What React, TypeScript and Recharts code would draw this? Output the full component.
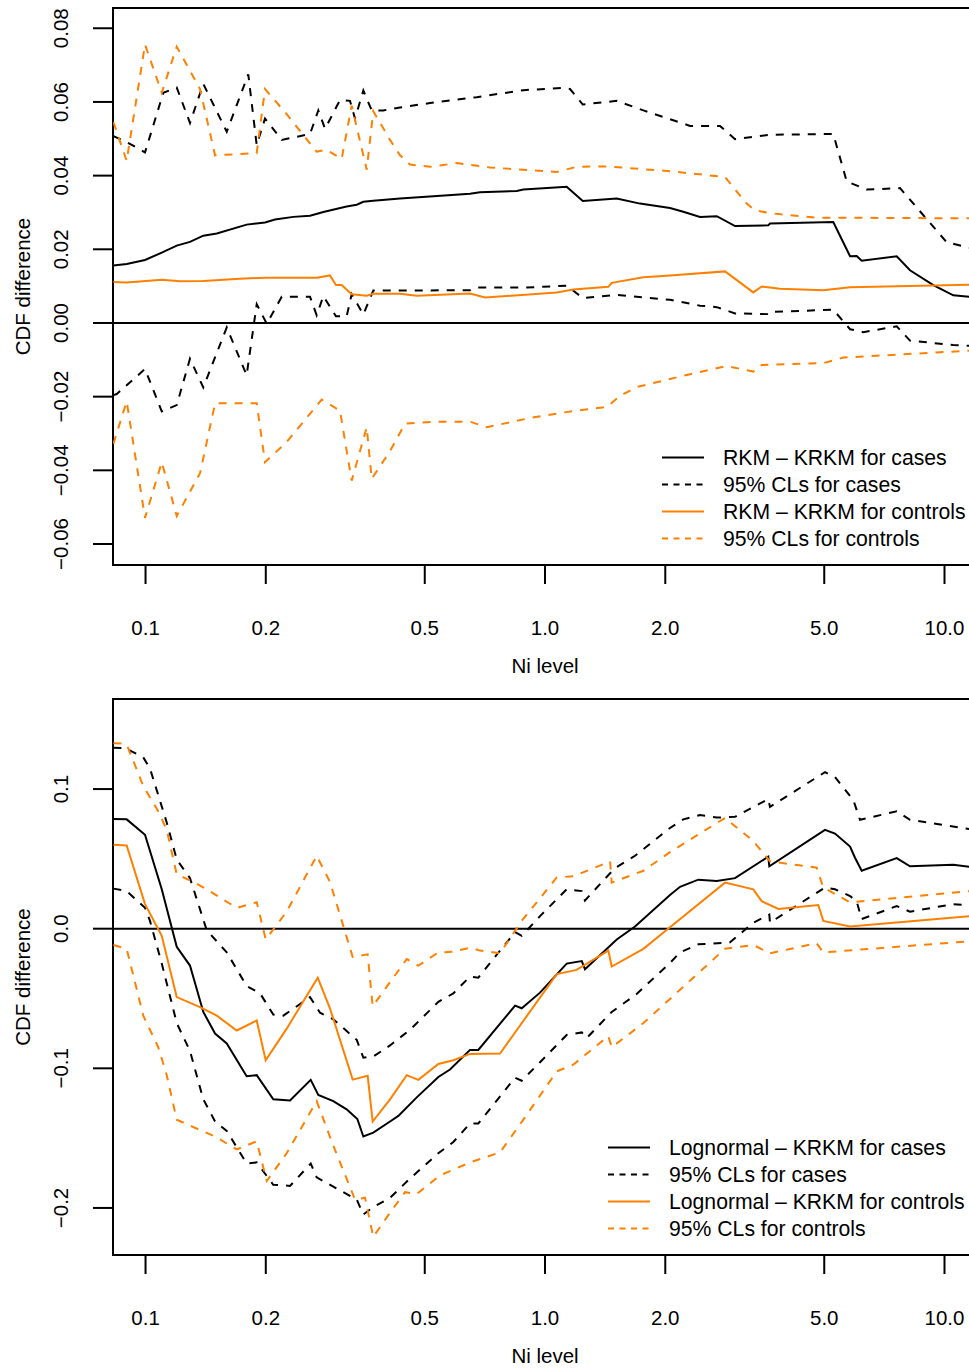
import React from 'react';
import { LineChart, Line, XAxis, YAxis, ReferenceLine, ReferenceArea, Legend } from 'recharts';

type Pt = [number, number];

const FONT = '"Liberation Sans", Arial, Helvetica, sans-serif';
const ORANGE = '#FF8000';
const DASH = '8 8';
const LEGEND_DASH = '6 5.5';

const xTicks = [0.1, 0.2, 0.5, 1, 2, 5, 10];
const xTickLabels = ['0.1', '0.2', '0.5', '1.0', '2.0', '5.0', '10.0'];
const xDomain: [number, number] = [0.0829, 12.06];

const topYTicks = [-0.06, -0.04, -0.02, 0, 0.02, 0.04, 0.06, 0.08];
const topYLabels = ['\u22120.06', '\u22120.04', '\u22120.02', '0.00', '0.02', '0.04', '0.06', '0.08'];
const topYDomain: [number, number] = [-0.0657, 0.0855];

const bottomYTicks = [-0.2, -0.1, 0, 0.1];
const bottomYLabels = ['\u22120.2', '\u22120.1', '0.0', '0.1'];
const bottomYDomain: [number, number] = [-0.2337, 0.1645];

const topLegend = [
  'RKM \u2013 KRKM for cases',
  '95% CLs for cases',
  'RKM \u2013 KRKM for controls',
  '95% CLs for controls',
];
const bottomLegend = [
  'Lognormal \u2013 KRKM for cases',
  '95% CLs for cases',
  'Lognormal \u2013 KRKM for controls',
  '95% CLs for controls',
];

// top panel: RKM - KRKM
const topCasesDiff: Pt[] = [
  [0.0831, 0.0156], [0.0897, 0.016], [0.0997, 0.0171], [0.1098, 0.0191], [0.1197, 0.021],
  [0.1292, 0.022], [0.1395, 0.0237], [0.1508, 0.0243], [0.1791, 0.0267], [0.1991, 0.0273],
  [0.2109, 0.0281], [0.2344, 0.0288], [0.2581, 0.0291], [0.2787, 0.0301], [0.3187, 0.0316],
  [0.3378, 0.0321], [0.3509, 0.0329], [0.3716, 0.0332], [0.4336, 0.0338], [0.5254, 0.0344],
  [0.649, 0.0351], [0.6875, 0.0355], [0.8494, 0.0358], [0.8825, 0.0362], [1.133, 0.037],
  [1.243, 0.0331], [1.512, 0.0338], [1.729, 0.0324], [2.055, 0.0312], [2.219, 0.0302],
  [2.443, 0.0288], [2.691, 0.029], [2.99, 0.0263], [3.621, 0.0265], [3.657, 0.027],
  [5.267, 0.0274], [5.802, 0.0181], [6.029, 0.0182], [6.204, 0.0169], [7.592, 0.0181],
  [8.196, 0.0143], [9.376, 0.0103], [10.52, 0.0075], [11.6, 0.0071],
];
const topCasesUpper: Pt[] = [
  [0.0831, 0.0507], [0.0897, 0.0491], [0.0997, 0.0463], [0.1108, 0.0625], [0.1197, 0.0639],
  [0.1292, 0.0543], [0.1395, 0.0649], [0.1597, 0.0519], [0.1808, 0.0675], [0.1898, 0.0483],
  [0.1991, 0.0555], [0.2192, 0.0497], [0.2581, 0.0513], [0.2707, 0.0577], [0.2814, 0.0527],
  [0.3067, 0.0605], [0.3249, 0.0603], [0.3345, 0.0555], [0.3509, 0.0631], [0.3682, 0.0577],
  [0.3937, 0.0577], [0.4336, 0.0585], [0.5155, 0.0597], [0.6745, 0.0613], [0.8825, 0.0632],
  [1.111, 0.0638], [1.155, 0.0635], [1.243, 0.0593], [1.512, 0.0603], [1.763, 0.0577],
  [2.055, 0.0553], [2.307, 0.0535], [2.742, 0.0535], [2.99, 0.0499], [3.657, 0.0511],
  [5.267, 0.0513], [5.692, 0.0384], [6.386, 0.0362], [7.739, 0.0366], [10.13, 0.0219],
  [11.6, 0.0204],
];
const topCasesLower: Pt[] = [
  [0.0831, -0.0196], [0.0847, -0.0193], [0.0997, -0.0125], [0.1098, -0.024], [0.1197, -0.0223],
  [0.1292, -0.0097], [0.1395, -0.0175], [0.1597, -0.0012], [0.1791, -0.0142], [0.1898, 0.0051],
  [0.2011, -0.0002], [0.2192, 0.0071], [0.2581, 0.0071], [0.2682, 0.0021], [0.2787, 0.0073],
  [0.2997, 0.0018], [0.3187, 0.0018], [0.3281, 0.0078], [0.3509, 0.0023], [0.3716, 0.0088],
  [0.4336, 0.0088], [0.649, 0.0089], [0.6745, 0.0096], [0.8825, 0.0096], [1.133, 0.0101],
  [1.243, 0.0068], [1.512, 0.0076], [2.055, 0.0063], [2.443, 0.0047], [2.691, 0.0043],
  [2.99, 0.0026], [3.621, 0.0024], [3.657, 0.003], [5.267, 0.0036], [5.802, -0.0017],
  [6.261, -0.0025], [7.592, -0.0009], [8.196, -0.0048], [10.52, -0.006], [11.6, -0.0062],
];
const topCtrlDiff: Pt[] = [
  [0.0831, 0.0111], [0.0897, 0.011], [0.1098, 0.0117], [0.122, 0.0113], [0.1395, 0.0114],
  [0.1723, 0.012], [0.1991, 0.0123], [0.2682, 0.0123], [0.2895, 0.0129], [0.2997, 0.0103],
  [0.3097, 0.0103], [0.3281, 0.0078], [0.3578, 0.0074], [0.3716, 0.0079], [0.4336, 0.0079],
  [0.4774, 0.0074], [0.649, 0.008], [0.7076, 0.0069], [1.07, 0.0083], [1.177, 0.0091],
  [1.44, 0.0098], [1.469, 0.0109], [1.763, 0.0124], [2.055, 0.0129], [2.822, 0.014],
  [3.322, 0.0083], [3.486, 0.0099], [3.874, 0.0093], [4.973, 0.0089], [5.802, 0.0097],
  [11.6, 0.0104],
];
const topCtrlUpper: Pt[] = [
  [0.0831, 0.0545], [0.0897, 0.044], [0.0997, 0.0756], [0.1098, 0.0625], [0.1197, 0.075],
  [0.1369, 0.0635], [0.1493, 0.0455], [0.1898, 0.0461], [0.1991, 0.0635], [0.2256, 0.0567],
  [0.2682, 0.0465], [0.2841, 0.047], [0.3097, 0.0445], [0.3281, 0.059], [0.3578, 0.0416],
  [0.3716, 0.0575], [0.4093, 0.0497], [0.4336, 0.0455], [0.4593, 0.043], [0.5155, 0.0424],
  [0.6012, 0.0434], [0.7285, 0.0422], [1.07, 0.041], [1.2, 0.0424], [1.427, 0.0425],
  [2.055, 0.0412], [2.822, 0.0396], [3.198, 0.0324], [3.355, 0.0306], [3.657, 0.0298],
  [4.786, 0.0286], [11.6, 0.0284],
];
const topCtrlLower: Pt[] = [
  [0.0831, -0.0328], [0.0897, -0.0213], [0.0997, -0.0529], [0.1098, -0.0378], [0.1197, -0.0524],
  [0.1369, -0.0408], [0.1493, -0.0218], [0.1898, -0.0218], [0.1991, -0.0378], [0.2256, -0.0323],
  [0.2761, -0.0208], [0.3067, -0.0238], [0.3281, -0.0428], [0.3578, -0.0283], [0.3682, -0.0423],
  [0.4093, -0.0348], [0.4336, -0.0298], [0.4463, -0.0273], [0.5358, -0.0268], [0.649, -0.0268],
  [0.7146, -0.0283], [0.9173, -0.0258], [1.111, -0.0243], [1.427, -0.0228], [1.541, -0.0198],
  [1.696, -0.0174], [2.055, -0.0152], [2.307, -0.0139], [2.85, -0.0117], [3.322, -0.0132],
  [3.486, -0.0114], [4.973, -0.0109], [5.582, -0.0094], [11.6, -0.0075],
];

// bottom panel: Lognormal - KRKM
const botCasesDiff: Pt[] = [
  [0.0831, 0.0785], [0.0897, 0.0783], [0.0997, 0.0673], [0.1098, 0.0282], [0.1197, -0.013],
  [0.1292, -0.0264], [0.1395, -0.0596], [0.1493, -0.0751], [0.1597, -0.0822], [0.1791, -0.1057],
  [0.1898, -0.1049], [0.2088, -0.1222], [0.23, -0.123], [0.2591, -0.1083], [0.2707, -0.119],
  [0.2951, -0.1235], [0.3187, -0.1294], [0.339, -0.1363], [0.3509, -0.1488], [0.3716, -0.1461],
  [0.4093, -0.1381], [0.4294, -0.1341], [0.4774, -0.1208], [0.5407, -0.1062], [0.5784, -0.1009],
  [0.649, -0.0868], [0.6808, -0.0868], [0.8414, -0.0551], [0.8743, -0.057], [0.9716, -0.0458],
  [1.133, -0.025], [1.236, -0.0232], [1.259, -0.029], [1.512, -0.0077], [1.68, 0.0016],
  [2.055, 0.0242], [2.178, 0.03], [2.419, 0.0351], [2.691, 0.0341], [2.99, 0.0362],
  [3.621, 0.0516], [3.643, 0.0447], [5.022, 0.0708], [5.32, 0.0681], [5.802, 0.0588],
  [5.97, 0.0508], [6.204, 0.0415], [7.592, 0.0506], [8.196, 0.0447], [10.52, 0.0458],
  [11.6, 0.0442],
];
const botCasesUpper: Pt[] = [
  [0.0831, 0.1296], [0.0872, 0.1294], [0.0897, 0.1288], [0.0987, 0.1227], [0.1026, 0.1147],
  [0.113, 0.0761], [0.1197, 0.0495], [0.1292, 0.0362], [0.1423, -0.0011], [0.1597, -0.017],
  [0.1791, -0.041], [0.1935, -0.0463], [0.2088, -0.0615], [0.2213, -0.0623], [0.2581, -0.049],
  [0.2734, -0.0602], [0.2951, -0.0649], [0.3378, -0.0796], [0.3509, -0.0924], [0.3716, -0.0916],
  [0.4093, -0.0836], [0.4593, -0.0724], [0.5407, -0.0524], [0.5895, -0.0463], [0.649, -0.0343],
  [0.6808, -0.0351], [0.8414, -0.0024], [0.8743, -0.0051], [0.9716, 0.009], [1.133, 0.0282],
  [1.236, 0.0269], [1.259, 0.0202], [1.455, 0.0397], [1.512, 0.0442], [1.68, 0.0522],
  [2.055, 0.0721], [2.219, 0.0783], [2.443, 0.0814], [2.691, 0.0796], [2.99, 0.0801],
  [3.621, 0.0929], [3.657, 0.0873], [5.022, 0.1121], [5.32, 0.1086], [5.913, 0.0921],
  [6.144, 0.078], [7.592, 0.0841], [8.196, 0.078], [11.6, 0.0713],
];
const botCasesLower: Pt[] = [
  [0.0831, 0.0287], [0.0897, 0.0269], [0.0997, 0.0149], [0.1026, 0.0056], [0.1098, -0.025],
  [0.1197, -0.0676], [0.1292, -0.0876], [0.1395, -0.1222], [0.1493, -0.1381], [0.1597, -0.1448],
  [0.1791, -0.1682], [0.1898, -0.1674], [0.2088, -0.1834], [0.23, -0.1842], [0.2591, -0.1682],
  [0.2682, -0.1781], [0.2951, -0.1847], [0.3378, -0.194], [0.3509, -0.2047], [0.3716, -0.1994],
  [0.4093, -0.1927], [0.4593, -0.1789], [0.5407, -0.1608], [0.5895, -0.1528], [0.649, -0.1395],
  [0.6808, -0.1395], [0.8414, -0.1067], [0.8743, -0.1089], [0.9716, -0.0956], [1.133, -0.0761],
  [1.236, -0.0743], [1.272, -0.0783], [1.469, -0.0596], [1.696, -0.0468], [2.055, -0.0245],
  [2.178, -0.017], [2.419, -0.0112], [2.905, -0.0098], [3.322, 0.0043], [3.643, 0.0101],
  [3.657, 0.0043], [5.022, 0.0295], [5.32, 0.0282], [5.802, 0.0234], [6.029, 0.0194],
  [6.204, 0.0069], [7.592, 0.0162], [8.196, 0.0122], [10.52, 0.0176], [11.6, 0.0168],
];
const botCtrlDiff: Pt[] = [
  [0.0831, 0.0602], [0.0897, 0.0596], [0.0997, 0.0176], [0.1098, -0.0051], [0.1197, -0.049],
  [0.1369, -0.0562], [0.1508, -0.0623], [0.1692, -0.0729], [0.1898, -0.0657], [0.1999, -0.0942],
  [0.2256, -0.0716], [0.2698, -0.0351], [0.2895, -0.057], [0.33, -0.1081], [0.3598, -0.1054],
  [0.3703, -0.1381], [0.4093, -0.1222], [0.4506, -0.1049], [0.4819, -0.1083], [0.5407, -0.0969],
  [0.5895, -0.0942], [0.649, -0.0897], [0.7716, -0.0894], [1.07, -0.0325], [1.2, -0.0295],
  [1.44, -0.0157], [1.469, -0.0271], [1.763, -0.0144], [2.055, 0.001], [2.822, 0.033],
  [3.322, 0.0282], [3.486, 0.0197], [3.837, 0.0141], [4.831, 0.017], [4.973, 0.0056],
  [5.802, 0.0016], [11.6, 0.009],
];
const botCtrlUpper: Pt[] = [
  [0.0831, 0.1328], [0.0872, 0.1326], [0.0897, 0.132], [0.0987, 0.1022], [0.1076, 0.0841],
  [0.113, 0.0708], [0.1197, 0.0389], [0.1317, 0.0335], [0.1423, 0.0282], [0.1692, 0.0149],
  [0.1898, 0.0189], [0.1999, -0.0077], [0.2256, 0.0122], [0.2682, 0.0522], [0.2895, 0.0335],
  [0.33, -0.0202], [0.3598, -0.0184], [0.3703, -0.0556], [0.4093, -0.0383], [0.4506, -0.0218],
  [0.4819, -0.0264], [0.5407, -0.017], [0.5895, -0.0165], [0.649, -0.0136], [0.6875, -0.0157],
  [0.7716, -0.0176], [0.8743, 0.0056], [1.07, 0.0367], [1.177, 0.0375], [1.455, 0.0482],
  [1.469, 0.033], [1.763, 0.0415], [2.055, 0.0548], [2.822, 0.0793], [3.322, 0.0628],
  [3.657, 0.0482], [4.786, 0.0437], [4.973, 0.0295], [5.802, 0.0189], [11.6, 0.0269],
];
const botCtrlLower: Pt[] = [
  [0.0831, -0.0117], [0.0897, -0.0144], [0.0987, -0.0623], [0.1076, -0.0849], [0.113, -0.1049],
  [0.1197, -0.1368], [0.1317, -0.1421], [0.1493, -0.1488], [0.1692, -0.1581], [0.1898, -0.1523],
  [0.2011, -0.1807], [0.2256, -0.1608], [0.2682, -0.1235], [0.2951, -0.1554], [0.3345, -0.194],
  [0.3543, -0.1927], [0.3716, -0.2207], [0.4093, -0.2034], [0.4463, -0.1887], [0.4774, -0.19],
  [0.5456, -0.1767], [0.649, -0.1674], [0.7716, -0.1602], [0.8825, -0.1368], [1.07, -0.1022],
  [1.177, -0.0974], [1.44, -0.0769], [1.469, -0.0849], [1.763, -0.0676], [2.055, -0.0503],
  [2.822, -0.0144], [3.322, -0.0117], [3.657, -0.0176], [4.786, -0.0104], [4.973, -0.017],
  [11.6, -0.009],
];

const legendStyles = [
  { color: '#000', dash: undefined },
  { color: '#000', dash: LEGEND_DASH },
  { color: ORANGE, dash: undefined },
  { color: ORANGE, dash: LEGEND_DASH },
];

const toRows = (pts: Pt[]) => pts.map(([x, y]) => ({ x, y }));

function XTick(props: any) {
  const { x, y, payload } = props;
  const i = xTicks.indexOf(payload.value);
  return (
    <text x={x} y={y + 43} textAnchor="middle" dominantBaseline="central"
      fontFamily={FONT} fontSize={20.5} fill="#000">
      {i >= 0 ? xTickLabels[i] : payload.value}
    </text>
  );
}

function makeYTick(ticks: number[], labels: string[]) {
  return function YTick(props: any) {
    const { y, payload } = props;
    const i = ticks.findIndex((t) => Math.abs(t - payload.value) < 1e-9);
    return (
      <text x={61} y={y} transform={`rotate(-90, 61, ${y})`} textAnchor="middle"
        dominantBaseline="central" fontFamily={FONT} fontSize={20.5} fill="#000">
        {i >= 0 ? labels[i] : payload.value}
      </text>
    );
  };
}

function LegendBox({ labels }: { labels: string[] }) {
  return (
    <div style={{ fontFamily: FONT, fontSize: 21.2, color: '#000' }}>
      {legendStyles.map((s, i) => (
        <div key={i} style={{ display: 'flex', alignItems: 'center', height: 27, whiteSpace: 'nowrap' }}>
          <svg width={42} height={27} style={{ display: 'block' }}>
            <line x1={0} x2={42} y1={13.5} y2={13.5} stroke={s.color} strokeWidth={2} strokeDasharray={s.dash} />
          </svg>
          <span style={{ marginLeft: 19, lineHeight: '27px' }}>{labels[i]}</span>
        </div>
      ))}
    </div>
  );
}

interface PanelProps {
  height: number;
  marginTop: number;
  xAxisHeight: number;
  yDomain: [number, number];
  yTicks: number[];
  yLabels: string[];
  legend: string[];
  legendLeft: number;
  series: Pt[][];
}

function Panel(p: PanelProps) {
  const colors = ['#000', '#000', '#000', ORANGE, ORANGE, ORANGE];
  const dashes = [undefined, DASH, DASH, undefined, DASH, DASH];
  return (
    <LineChart width={980} height={p.height} margin={{ top: p.marginTop, right: 3, bottom: 0, left: 0 }}>
      <XAxis
        type="number"
        dataKey="x"
        scale="log"
        domain={xDomain}
        allowDataOverflow
        ticks={xTicks}
        interval={0}
        height={p.xAxisHeight}
        tickSize={19}
        tickMargin={0}
        axisLine={false}
        tickLine={{ stroke: '#000', strokeWidth: 2 }}
        tick={<XTick />}
        label={(lp: any) => {
          const vb = lp.viewBox || {};
          return (
            <text x={vb.x + vb.width / 2} y={vb.y + 100} textAnchor="middle" dominantBaseline="central"
              fontFamily={FONT} fontSize={20.5} fill="#000">
              Ni level
            </text>
          );
        }}
      />
      <YAxis
        type="number"
        dataKey="y"
        domain={p.yDomain}
        allowDataOverflow
        ticks={p.yTicks}
        interval={0}
        width={113}
        tickSize={20}
        tickMargin={0}
        axisLine={false}
        tickLine={{ stroke: '#000', strokeWidth: 2 }}
        tick={makeYTick(p.yTicks, p.yLabels)}
        label={(lp: any) => {
          const vb = lp.viewBox || {};
          const cy = vb.y + vb.height / 2;
          return (
            <text x={22} y={cy} transform={`rotate(-90, 22, ${cy})`} textAnchor="middle"
              dominantBaseline="central" fontFamily={FONT} fontSize={20.5} fill="#000">
              CDF difference
            </text>
          );
        }}
      />
      <ReferenceLine y={0} stroke="#000" strokeWidth={2} />
      {p.series.map((s, i) => (
        <Line
          key={i}
          data={toRows(s)}
          dataKey="y"
          type="linear"
          stroke={colors[i]}
          strokeWidth={2}
          strokeDasharray={dashes[i]}
          dot={false}
          activeDot={false}
          isAnimationActive={false}
        />
      ))}
      <ReferenceArea
        x1={xDomain[0]}
        x2={xDomain[1]}
        y1={p.yDomain[0]}
        y2={p.yDomain[1]}
        stroke="#000"
        strokeWidth={2}
        fill="none"
        fillOpacity={0}
        ifOverflow="visible"
      />
      <Legend
        layout="horizontal"
        verticalAlign="middle"
        align="center"
        wrapperStyle={{ left: p.legendLeft, top: 444, width: 'auto' }}
        content={() => <LegendBox labels={p.legend} />}
      />
    </LineChart>
  );
}

export default function App() {
  return (
    <div style={{ position: 'absolute', left: 0, top: 0, width: 969, height: 1368, overflow: 'hidden', background: '#fff' }}>
      <div style={{ position: 'absolute', left: 0, top: 0 }}>
        <Panel
          height={690}
          marginTop={8}
          xAxisHeight={125}
          yDomain={topYDomain}
          yTicks={topYTicks}
          yLabels={topYLabels}
          legend={topLegend}
          legendLeft={662}
          series={[topCasesDiff, topCasesUpper, topCasesLower, topCtrlDiff, topCtrlUpper, topCtrlLower]}
        />
      </div>
      <div style={{ position: 'absolute', left: 0, top: 690 }}>
        <Panel
          height={678}
          marginTop={9}
          xAxisHeight={113}
          yDomain={bottomYDomain}
          yTicks={bottomYTicks}
          yLabels={bottomYLabels}
          legend={bottomLegend}
          legendLeft={608}
          series={[botCasesDiff, botCasesUpper, botCasesLower, botCtrlDiff, botCtrlUpper, botCtrlLower]}
        />
      </div>
    </div>
  );
}
